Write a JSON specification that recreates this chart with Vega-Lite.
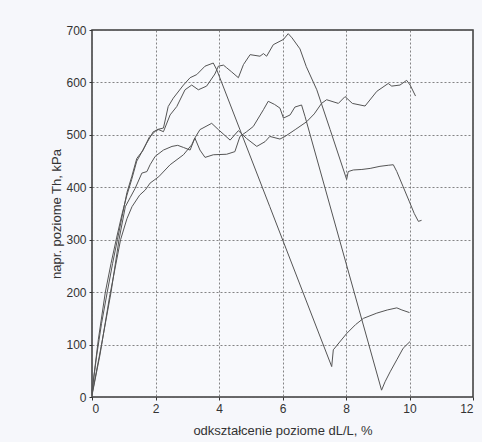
{
  "$schema": "https://vega.github.io/schema/vega-lite/v6.json",
  "width": 381,
  "height": 367,
  "autosize": "none",
  "padding": {"left": 92, "top": 30, "right": 9, "bottom": 45},
  "background": "#f6f7fb",
  "config": {
    "view": {"stroke": "#3a3a3a", "strokeWidth": 1.5, "fill": "#f8f9fc"},
    "font": "Liberation Sans"
  },
  "data": {"values": [
    {"s":"A","i":0,"x":0,"y":8},{"s":"A","i":1,"x":0.1,"y":60},{"s":"A","i":2,"x":0.2,"y":110},{"s":"A","i":3,"x":0.42,"y":200},{"s":"A","i":4,"x":0.6,"y":255},{"s":"A","i":5,"x":0.78,"y":305},{"s":"A","i":6,"x":0.95,"y":350},{"s":"A","i":7,"x":1.1,"y":385},{"s":"A","i":8,"x":1.25,"y":415},{"s":"A","i":9,"x":1.41,"y":450},{"s":"A","i":10,"x":1.55,"y":465},{"s":"A","i":11,"x":1.72,"y":484},{"s":"A","i":12,"x":1.93,"y":506},{"s":"A","i":13,"x":2.1,"y":510},{"s":"A","i":14,"x":2.25,"y":506},{"s":"A","i":15,"x":2.46,"y":538},{"s":"A","i":16,"x":2.67,"y":554},{"s":"A","i":17,"x":2.93,"y":586},{"s":"A","i":18,"x":3.14,"y":595},{"s":"A","i":19,"x":3.35,"y":586},{"s":"A","i":20,"x":3.61,"y":593},{"s":"A","i":21,"x":3.87,"y":616},{"s":"A","i":22,"x":3.98,"y":631},{"s":"A","i":23,"x":4.14,"y":633},{"s":"A","i":24,"x":4.24,"y":628},{"s":"A","i":25,"x":4.4,"y":620},{"s":"A","i":26,"x":4.61,"y":609},{"s":"A","i":27,"x":4.77,"y":634},{"s":"A","i":28,"x":4.98,"y":653},{"s":"A","i":29,"x":5.29,"y":650},{"s":"A","i":30,"x":5.4,"y":655},{"s":"A","i":31,"x":5.5,"y":650},{"s":"A","i":32,"x":5.71,"y":672},{"s":"A","i":33,"x":6.03,"y":682},{"s":"A","i":34,"x":6.18,"y":693},{"s":"A","i":35,"x":6.3,"y":685},{"s":"A","i":36,"x":6.55,"y":664},{"s":"A","i":37,"x":6.75,"y":630},{"s":"A","i":38,"x":7.08,"y":586},{"s":"A","i":39,"x":7.5,"y":510},{"s":"A","i":40,"x":8.02,"y":415},{"s":"A","i":41,"x":8.07,"y":430},{"s":"A","i":42,"x":8.23,"y":433},{"s":"A","i":43,"x":8.5,"y":434},{"s":"A","i":44,"x":8.76,"y":436},{"s":"A","i":45,"x":9.07,"y":440},{"s":"A","i":46,"x":9.33,"y":442},{"s":"A","i":47,"x":9.49,"y":443},{"s":"A","i":48,"x":9.6,"y":430},{"s":"A","i":49,"x":9.8,"y":401},{"s":"A","i":50,"x":10.0,"y":372},{"s":"A","i":51,"x":10.15,"y":350},{"s":"A","i":52,"x":10.28,"y":335},{"s":"A","i":53,"x":10.38,"y":337},
    {"s":"B","i":0,"x":0,"y":12},{"s":"B","i":1,"x":0.15,"y":80},{"s":"B","i":2,"x":0.3,"y":140},{"s":"B","i":3,"x":0.48,"y":200},{"s":"B","i":4,"x":0.65,"y":255},{"s":"B","i":5,"x":0.8,"y":300},{"s":"B","i":6,"x":0.95,"y":345},{"s":"B","i":7,"x":1.1,"y":390},{"s":"B","i":8,"x":1.25,"y":420},{"s":"B","i":9,"x":1.41,"y":455},{"s":"B","i":10,"x":1.6,"y":470},{"s":"B","i":11,"x":1.8,"y":495},{"s":"B","i":12,"x":2.04,"y":510},{"s":"B","i":13,"x":2.25,"y":513},{"s":"B","i":14,"x":2.4,"y":554},{"s":"B","i":15,"x":2.56,"y":570},{"s":"B","i":16,"x":2.88,"y":595},{"s":"B","i":17,"x":3.09,"y":609},{"s":"B","i":18,"x":3.3,"y":615},{"s":"B","i":19,"x":3.56,"y":631},{"s":"B","i":20,"x":3.82,"y":637},{"s":"B","i":21,"x":3.93,"y":624},{"s":"B","i":22,"x":5.6,"y":363},{"s":"B","i":23,"x":7.55,"y":58},{"s":"B","i":24,"x":7.6,"y":90},{"s":"B","i":25,"x":8.02,"y":121},{"s":"B","i":26,"x":8.3,"y":138},{"s":"B","i":27,"x":8.55,"y":150},{"s":"B","i":28,"x":8.97,"y":160},{"s":"B","i":29,"x":9.3,"y":166},{"s":"B","i":30,"x":9.6,"y":170},{"s":"B","i":31,"x":9.76,"y":166},{"s":"B","i":32,"x":10.0,"y":161},
    {"s":"Q","i":0,"x":0,"y":5},{"s":"Q","i":1,"x":0.3,"y":100},{"s":"Q","i":2,"x":0.6,"y":200},{"s":"Q","i":3,"x":0.85,"y":300},{"s":"Q","i":4,"x":1.05,"y":363},{"s":"Q","i":5,"x":1.2,"y":380},{"s":"Q","i":6,"x":1.36,"y":398},{"s":"Q","i":7,"x":1.57,"y":427},{"s":"Q","i":8,"x":1.73,"y":430},{"s":"Q","i":9,"x":1.83,"y":443},{"s":"Q","i":10,"x":1.99,"y":459},{"s":"Q","i":11,"x":2.25,"y":471},{"s":"Q","i":12,"x":2.52,"y":478},{"s":"Q","i":13,"x":2.7,"y":480},{"s":"Q","i":14,"x":2.88,"y":476},{"s":"Q","i":15,"x":3.09,"y":471},{"s":"Q","i":16,"x":3.24,"y":494},{"s":"Q","i":17,"x":3.4,"y":510},{"s":"Q","i":18,"x":3.77,"y":522},{"s":"Q","i":19,"x":3.98,"y":510},{"s":"Q","i":20,"x":4.35,"y":490},{"s":"Q","i":21,"x":4.61,"y":508},{"s":"Q","i":22,"x":4.87,"y":493},{"s":"Q","i":23,"x":5.19,"y":478},{"s":"Q","i":24,"x":5.45,"y":487},{"s":"Q","i":25,"x":5.6,"y":497},{"s":"Q","i":26,"x":5.92,"y":492},{"s":"Q","i":27,"x":6.08,"y":497},{"s":"Q","i":28,"x":6.4,"y":510},{"s":"Q","i":29,"x":6.76,"y":525},{"s":"Q","i":30,"x":7.0,"y":540},{"s":"Q","i":31,"x":7.23,"y":560},{"s":"Q","i":32,"x":7.39,"y":567},{"s":"Q","i":33,"x":7.76,"y":560},{"s":"Q","i":34,"x":7.97,"y":573},{"s":"Q","i":35,"x":8.2,"y":560},{"s":"Q","i":36,"x":8.6,"y":555},{"s":"Q","i":37,"x":8.97,"y":583},{"s":"Q","i":38,"x":9.33,"y":598},{"s":"Q","i":39,"x":9.44,"y":593},{"s":"Q","i":40,"x":9.7,"y":595},{"s":"Q","i":41,"x":9.91,"y":604},{"s":"Q","i":42,"x":10.02,"y":595},{"s":"Q","i":43,"x":10.19,"y":574},
    {"s":"R","i":0,"x":0,"y":3},{"s":"R","i":1,"x":0.25,"y":80},{"s":"R","i":2,"x":0.55,"y":190},{"s":"R","i":3,"x":0.9,"y":300},{"s":"R","i":4,"x":1.1,"y":340},{"s":"R","i":5,"x":1.26,"y":363},{"s":"R","i":6,"x":1.5,"y":385},{"s":"R","i":7,"x":1.68,"y":395},{"s":"R","i":8,"x":1.83,"y":408},{"s":"R","i":9,"x":2.1,"y":420},{"s":"R","i":10,"x":2.46,"y":443},{"s":"R","i":11,"x":2.88,"y":462},{"s":"R","i":12,"x":3.14,"y":481},{"s":"R","i":13,"x":3.24,"y":494},{"s":"R","i":14,"x":3.4,"y":471},{"s":"R","i":15,"x":3.56,"y":457},{"s":"R","i":16,"x":3.82,"y":462},{"s":"R","i":17,"x":4.24,"y":463},{"s":"R","i":18,"x":4.5,"y":468},{"s":"R","i":19,"x":4.66,"y":497},{"s":"R","i":20,"x":4.87,"y":506},{"s":"R","i":21,"x":5.08,"y":516},{"s":"R","i":22,"x":5.4,"y":548},{"s":"R","i":23,"x":5.55,"y":564},{"s":"R","i":24,"x":5.75,"y":558},{"s":"R","i":25,"x":5.92,"y":551},{"s":"R","i":26,"x":6.03,"y":532},{"s":"R","i":27,"x":6.24,"y":538},{"s":"R","i":28,"x":6.39,"y":553},{"s":"R","i":29,"x":6.6,"y":557},{"s":"R","i":30,"x":6.71,"y":535},{"s":"R","i":31,"x":9.12,"y":13},{"s":"R","i":32,"x":9.23,"y":29},{"s":"R","i":33,"x":9.39,"y":48},{"s":"R","i":34,"x":9.6,"y":71},{"s":"R","i":35,"x":9.8,"y":93},{"s":"R","i":36,"x":10.02,"y":106}
  ]},
  "mark": {"type": "line", "stroke": "#555555", "strokeWidth": 1, "interpolate": "linear"},
  "encoding": {
    "detail": {"field": "s", "type": "nominal"},
    "order": {"field": "i", "type": "quantitative"},
    "x": {
      "field": "x", "type": "quantitative",
      "scale": {"domain": [0, 12], "nice": false, "zero": false},
      "axis": {
        "title": "odkształcenie poziome dL/L, %",
        "values": [0, 2, 4, 6, 8, 10, 12],
        "format": "d",
        "grid": true, "gridColor": "#666666", "gridDash": [2, 2], "gridWidth": 0.8, "gridOpacity": 1,
        "domain": false, "ticks": true, "tickSize": 3, "tickColor": "#333333",
        "labelFont": "Liberation Sans", "labelFontSize": 12, "labelColor": "#333333", "labelPadding": 3,
        "titleFont": "Liberation Sans", "titleFontSize": 13, "titleFontWeight": "normal", "titleColor": "#333333", "titlePadding": 10
      }
    },
    "y": {
      "field": "y", "type": "quantitative",
      "scale": {"domain": [0, 700], "nice": false, "zero": false},
      "axis": {
        "title": "napr. poziome Th, kPa",
        "values": [0, 100, 200, 300, 400, 500, 600, 700],
        "grid": true, "gridColor": "#666666", "gridDash": [2, 2], "gridWidth": 0.8, "gridOpacity": 1,
        "domain": false, "ticks": true, "tickSize": 3, "tickColor": "#333333",
        "labelFont": "Liberation Sans", "labelFontSize": 12, "labelColor": "#333333", "labelPadding": 3,
        "titleFont": "Liberation Sans", "titleFontSize": 13, "titleFontWeight": "normal", "titleColor": "#333333", "titlePadding": 2
      }
    }
  }
}
